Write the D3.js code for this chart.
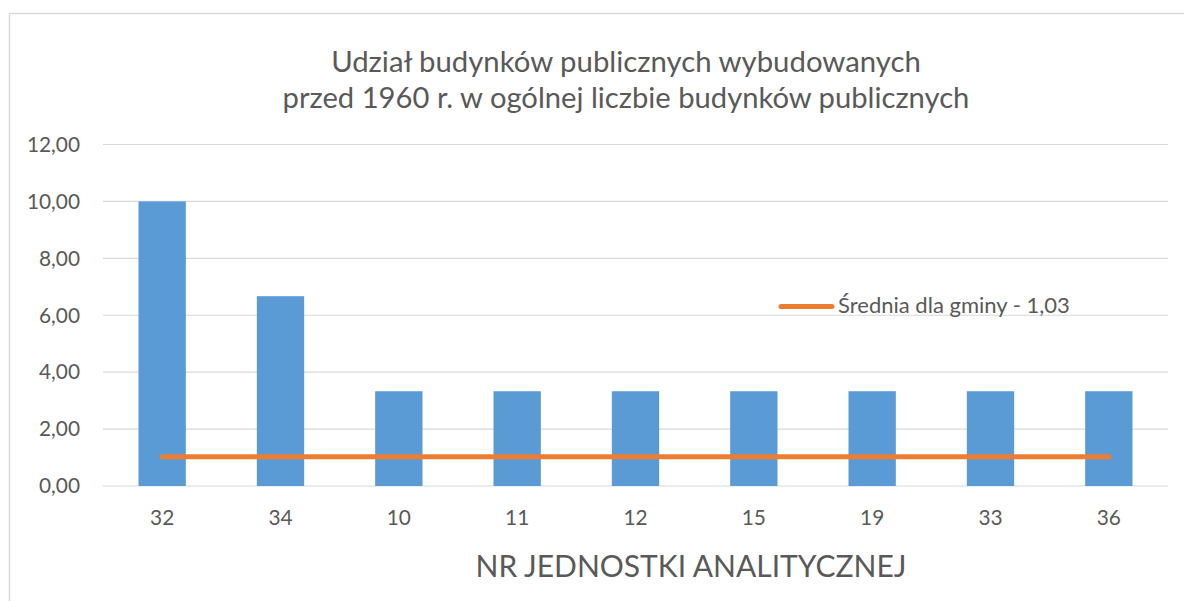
<!DOCTYPE html>
<html>
<head>
<meta charset="utf-8">
<script src="https://cdn.jsdelivr.net/npm/d3@7"></script>
<style>
  html, body { margin: 0; padding: 0; background: #fff; }
  svg { display: block; font-family: Lato, "Open Sans", sans-serif; }
</style>
</head>
<body>
<svg id="chart" width="1184" height="601"></svg>
<script>
// Analytical unit numbers and share of public buildings built before 1960
const categories = ["32", "34", "10", "11", "12", "15", "19", "33", "36"];
const shares = [10.00, 6.67, 3.33, 3.33, 3.33, 3.33, 3.33, 3.33, 3.33];
const municipalAverage = 1.03;
const yTicks = [0, 2, 4, 6, 8, 10, 12];
const titleLines = [
  "Udział budynków publicznych wybudowanych",
  "przed 1960 r. w ogólnej liczbie budynków publicznych"
];
const xAxisTitle = "NR JEDNOSTKI ANALITYCZNEJ";
const legendLabel = "Średnia dla gminy - 1,03";

const svg = d3.select("#chart");
const textColor = "#595959";
const gridColor = "#d9d9d9";

// Font size that makes a text element span the given width
function fitSize(sel, target, base) {
  sel.attr("font-size", base);
  const w = sel.node().getComputedTextLength();
  return base * target / w;
}

// chart frame
svg.append("rect")
  .attr("x", 9.5).attr("y", 13.5)
  .attr("width", 1300).attr("height", 700)
  .attr("fill", "#fff").attr("stroke", gridColor).attr("stroke-width", 1.5);

const x = d3.scaleBand()
  .domain(categories)
  .range([103, 1168])
  .paddingInner(0.6)
  .paddingOuter(0.3);

const y = d3.scaleLinear().domain([0, 12]).range([486, 144.5]);

// horizontal gridlines
svg.append("g").selectAll("line")
  .data(yTicks)
  .join("line")
  .attr("x1", 103).attr("x2", 1168)
  .attr("y1", d => y(d)).attr("y2", d => y(d))
  .attr("stroke", gridColor).attr("stroke-width", 1.2);

// y axis labels, one shared size
const fmt = d => d.toFixed(2).replace(".", ",");
const yLab = svg.append("g").selectAll("text")
  .data(yTicks)
  .join("text")
  .attr("x", 80).attr("y", d => y(d))
  .attr("dy", "0.35em")
  .attr("text-anchor", "end")
  .attr("fill", textColor)
  .text(fmt);
const ySize = fitSize(yLab.filter(d => d === 8), 41, 18);
yLab.attr("font-size", ySize);

// bars
svg.append("g").selectAll("rect")
  .data(shares)
  .join("rect")
  .attr("x", (d, i) => x(categories[i]))
  .attr("y", d => y(d))
  .attr("width", x.bandwidth())
  .attr("height", d => y(0) - y(d))
  .attr("fill", "#5B9BD5");

// municipal average line
const cx = c => x(c) + x.bandwidth() / 2;
svg.append("line")
  .attr("x1", cx(categories[0]))
  .attr("x2", cx(categories[categories.length - 1]))
  .attr("y1", y(municipalAverage)).attr("y2", y(municipalAverage))
  .attr("stroke", "#ED7D31").attr("stroke-width", 5)
  .attr("stroke-linecap", "round");

// x axis labels
const xLab = svg.append("g").selectAll("text")
  .data(categories)
  .join("text")
  .attr("x", d => cx(d)).attr("y", 525)
  .attr("text-anchor", "middle")
  .attr("fill", textColor)
  .text(d => d);
xLab.attr("font-size", ySize);

// title
titleLines.forEach((t, i) => {
  const el = svg.append("text")
    .attr("x", 626).attr("y", 72 + i * 36)
    .attr("text-anchor", "middle")
    .attr("fill", textColor)
    .text(t);
  el.attr("font-size", fitSize(el, i === 0 ? 590 : 687, 25));
});

// x axis title
const xt = svg.append("text")
  .attr("x", 691).attr("y", 577)
  .attr("text-anchor", "middle")
  .attr("fill", textColor)
  .text(xAxisTitle);
xt.attr("font-size", fitSize(xt, 431, 28));

// legend
svg.append("line")
  .attr("x1", 781).attr("x2", 832)
  .attr("y1", 306.5).attr("y2", 306.5)
  .attr("stroke", "#ED7D31").attr("stroke-width", 5)
  .attr("stroke-linecap", "round");
const lt = svg.append("text")
  .attr("x", 838).attr("y", 313)
  .attr("fill", textColor)
  .text(legendLabel);
lt.attr("font-size", fitSize(lt, 232, 18));
</script>
</body>
</html>
